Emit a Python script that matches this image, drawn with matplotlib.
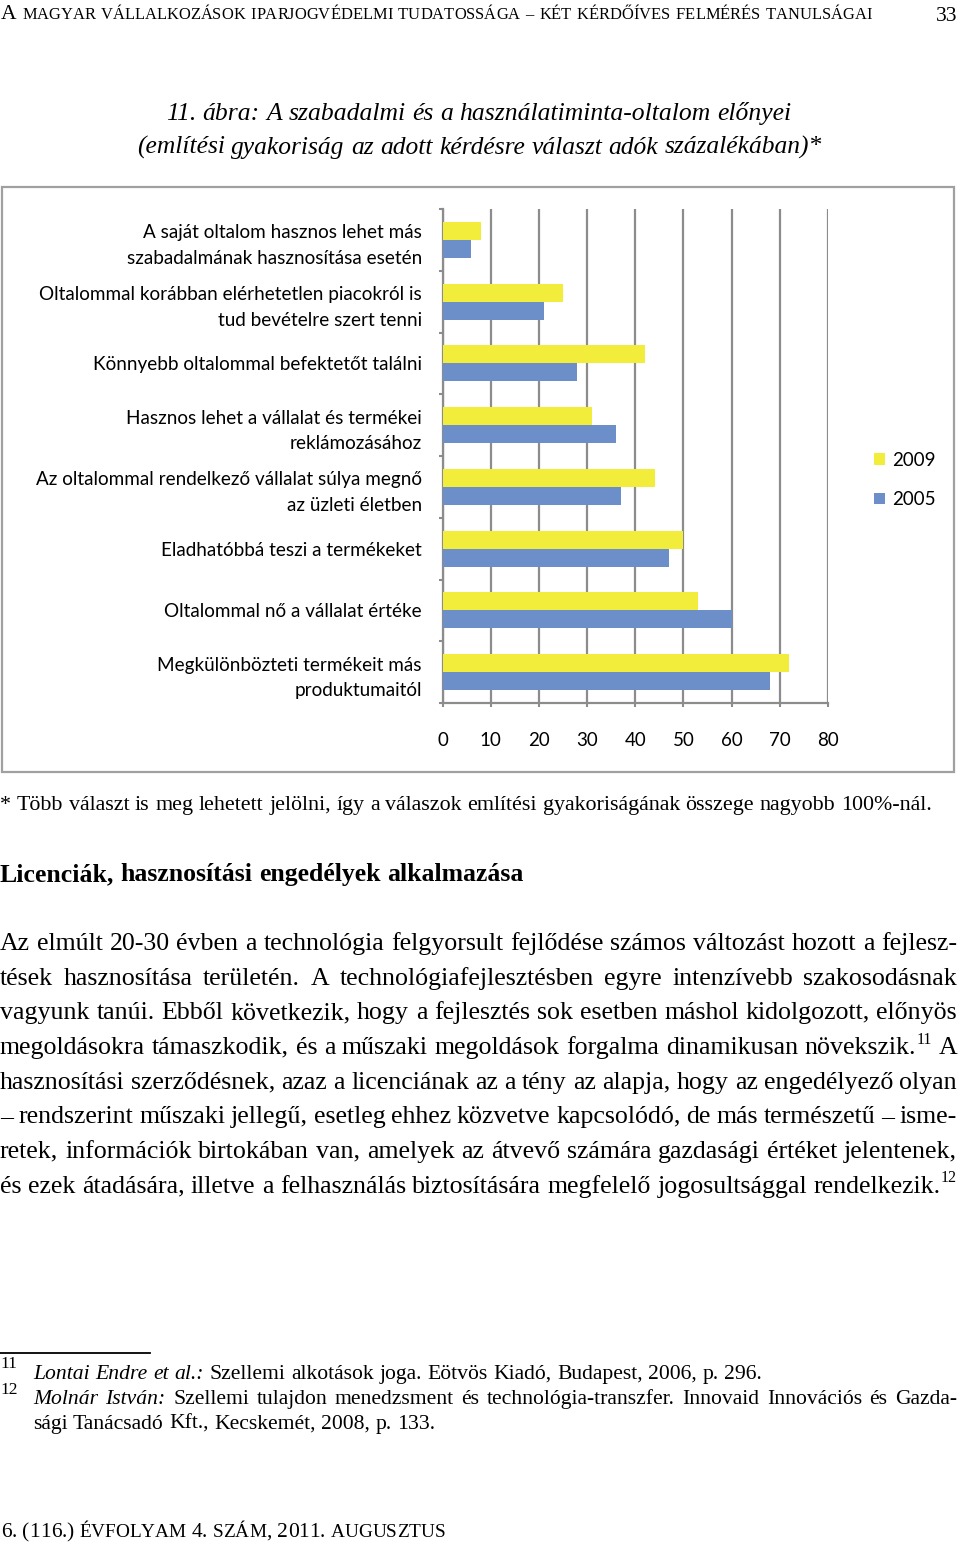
import numpy as np
import matplotlib
matplotlib.use("Agg")
import matplotlib.pyplot as plt
from matplotlib.patches import Rectangle

# ---------------- data ----------------
categories = [
    "A saját oltalom hasznos lehet más\nszabadalmának hasznosítása esetén",
    "Oltalommal korábban elérhetetlen piacokról is\ntud bevételre szert tenni",
    "Könnyebb oltalommal befektetőt találni",
    "Hasznos lehet a vállalat és termékei\nreklámozásához",
    "Az oltalommal rendelkező vállalat súlya megnő\naz üzleti életben",
    "Eladhatóbbá teszi a termékeket",
    "Oltalommal nő a vállalat értéke",
    "Megkülönbözteti termékeit más\nproduktumaitól",
]
values_2009 = [8, 25, 42, 31, 44, 50, 53, 72]
values_2005 = [6, 21, 28, 36, 37, 47, 60, 68]
series_labels = ["2009", "2005"]
x_ticks = [0, 10, 20, 30, 40, 50, 60, 70, 80]

header_text = "A magyar vállalkozások iparjogvédelmi tudatossága – két kérdőíves felmérés tanulságai"
page_number = "33"
title_lines = [
    "11. ábra: A szabadalmi és a használatiminta-oltalom előnyei",
    "(említési gyakoriság az adott kérdésre választ adók százalékában)*",
]
note_text = "* Több választ is meg lehetett jelölni, így a válaszok említési gyakoriságának összege nagyobb 100%-nál."
heading_text = "Licenciák, hasznosítási engedélyek alkalmazása"
body_lines = [
    "Az elmúlt 20-30 évben a technológia felgyorsult fejlődése számos változást hozott a fejlesz-",
    "tések hasznosítása területén. A technológiafejlesztésben egyre intenzívebb szakosodásnak",
    "vagyunk tanúi. Ebből következik, hogy a fejlesztés sok esetben máshol kidolgozott, előnyös",
    "megoldásokra támaszkodik, és a műszaki megoldások forgalma dinamikusan növekszik.^11 A",
    "hasznosítási szerződésnek, azaz a licenciának az a tény az alapja, hogy az engedélyező olyan",
    "– rendszerint műszaki jellegű, esetleg ehhez közvetve kapcsolódó, de más természetű – isme-",
    "retek, információk birtokában van, amelyek az átvevő számára gazdasági értéket jelentenek,",
    "és ezek átadására, illetve a felhasználás biztosítására megfelelő jogosultsággal rendelkezik.^12",
]
footnote_lines = [
    "_Lontai _Endre _et _al.: Szellemi alkotások joga. Eötvös Kiadó, Budapest, 2006, p. 296.",
    "_Molnár _István: Szellemi tulajdon menedzsment és technológia-transzfer. Innovaid Innovációs és Gazda-",
    "sági Tanácsadó Kft., Kecskemét, 2008, p. 133.",
]
footnote_numbers = ["11", "12"]
footer_text = "6. (116.) évfolyam 4. szám, 2011. augusztus"

# ---------------- style ----------------
SERIF = "Liberation Serif"
SANS = "Lato"
YELLOW = "#F2EC3A"
BLUE = "#6C8EC9"
GRID = "#8C8C8C"

W, H = 960, 1547
fig = plt.figure(figsize=(W / 100, H / 100), dpi=100)
fig.patch.set_facecolor("white")
ov = fig.add_axes([0, 0, 1, 1], zorder=0)
ov.set_xlim(0, W)
ov.set_ylim(H, 0)
ov.axis("off")
R = fig.canvas.get_renderer()


def wid(t):
    return t.get_window_extent(renderer=R).width


def space_w(props, family):
    p = {k: v for k, v in props.items() if k != "dy"}
    a = ov.text(0, 0, "n n", family=family, **p)
    b = ov.text(0, 0, "nn", family=family, **p)
    s = wid(a) - wid(b)
    a.remove(); b.remove()
    return s


def draw_line(words, x0, x1, base, mode="left", family=SERIF):
    """words: list of list of (text, props). mode: left, justify, fit"""
    objs = []
    for w in words:
        row = []
        for s, p in w:
            p = dict(p)
            dy = p.pop("dy", 0)
            t = ov.text(0, base + dy, s, family=family, va="baseline", ha="left", **p)
            row.append([t, wid(t), p.get("size", 12)])
        objs.append(row)
    sp = space_w(words[0][0][1], family)
    tot = sum(r[1] for row in objs for r in row)
    n = len(objs)
    scale = 1.0
    if mode == "fit":
        natural = tot + sp * (n - 1)
        scale = (x1 - x0) / natural
        for row in objs:
            for r in row:
                r[0].set_fontsize(r[2] * scale)
                r[1] = wid(r[0])
        tot = sum(r[1] for row in objs for r in row)
        gap = (x1 - x0 - tot) / (n - 1) if n > 1 else 0
    elif mode == "justify":
        gap = (x1 - x0 - tot) / (n - 1) if n > 1 else 0
    else:
        gap = sp
    x = x0
    for row in objs:
        for r in row:
            r[0].set_x(x)
            x += r[1]
        x += gap
    return scale


def plain_words(text, size, **kw):
    out = []
    for w in text.split(" "):
        style = dict(size=size, **kw)
        if w.startswith("_"):
            w = w[1:]
            style["style"] = "italic"
        parts = w.split("^")
        pieces = [(parts[0], style)]
        if len(parts) > 1:
            sup = dict(style)
            sup["size"] = size * 0.62
            sup["dy"] = -size * 0.55
            pieces.append((parts[1], sup))
        out.append(pieces)
    return out


def smallcap_words(text, big, small):
    out = []
    for w in text.split(" "):
        pieces = []
        for ch in w:
            if ch.isupper():
                pieces.append((ch, dict(size=big)))
            elif ch.isdigit() or ch in "().,":
                pieces.append((ch, dict(size=small * 1.12)))
            else:
                pieces.append((ch.upper(), dict(size=small)))
        out.append(pieces)
    return out


# ---------------- header ----------------
draw_line(smallcap_words(header_text, 15, 11.5), 1, 872, 19, mode="fit")
ov.text(957, 21, page_number, family=SERIF, size=15.5, ha="right", va="baseline")

# ---------------- title ----------------
draw_line(plain_words(title_lines[0], 18, style="italic"), 166, 791, 120, mode="fit")
draw_line(plain_words(title_lines[1], 18, style="italic"), 137, 822, 154, mode="fit")

# ---------------- chart frame ----------------
ov.add_patch(Rectangle((2, 187), 952, 584.5, fill=False, edgecolor="#A0A0A0", lw=1.6))

# ---------------- chart ----------------
L, Rt, T, B = 442.5, 828, 209, 703
ax = fig.add_axes([L / W, 1 - B / H, (Rt - L) / W, (B - T) / H], zorder=2)
ax.set_facecolor("none")
y = np.arange(len(categories))
bh = 0.29
b1 = ax.barh(y - bh / 2, values_2009, height=bh, color=YELLOW, label=series_labels[0], zorder=3)
b2 = ax.barh(y + bh / 2, values_2005, height=bh, color=BLUE, label=series_labels[1], zorder=3)
ax.set_xlim(0, 80)
ax.set_ylim(len(categories) - 0.5, -0.5)
ax.set_xticks(x_ticks)
ax.set_xticklabels([str(v) for v in x_ticks], family=SANS, fontsize=13.5)
ax.set_yticks(y)
ax.set_yticklabels(categories, family=SANS, fontsize=13.6, linespacing=1.6)
ax.set_yticks(np.arange(-0.5, len(categories)), minor=True)
ax.tick_params(axis="y", which="major", length=0, pad=14.8)
ax.tick_params(axis="y", which="minor", length=3, width=1.5, color=GRID, direction="out")
ax.tick_params(axis="x", which="major", length=3, width=1.5, color=GRID, direction="out", pad=18)
ax.grid(axis="x", color=GRID, lw=1.6)
ax.set_axisbelow(True)
for s in ["top", "right"]:
    ax.spines[s].set_visible(False)
for s in ["left", "bottom"]:
    ax.spines[s].set_color(GRID)
    ax.spines[s].set_linewidth(1.6)
leg = ax.legend(handles=[b1, b2], labels=series_labels, loc="center left",
                bbox_to_anchor=(865 / W, 1 - 480 / H), bbox_transform=fig.transFigure,
                frameon=False, borderpad=0, handlelength=0.55, handleheight=0.55,
                handletextpad=0.4, labelspacing=1.2, prop=dict(family=SANS, size=13.5))

# ---------------- note & heading ----------------
draw_line(plain_words(note_text, 15.5), 0, 932, 810, mode="fit")
draw_line(plain_words(heading_text, 17, weight="bold"), 0, 523, 881, mode="fit")

# ---------------- body ----------------
base0, lh = 950, 34.65
for i, line in enumerate(body_lines):
    draw_line(plain_words(line, 18.6), 0, 957, base0 + i * lh, mode="justify")

# ---------------- footnotes ----------------
ov.plot([0, 150], [1352.5, 1352.5], color="black", lw=1.3)
ov.text(0, 1368, footnote_numbers[0], family=SERIF, size=12.5, va="baseline")
ov.text(0, 1394, footnote_numbers[1], family=SERIF, size=12.5, va="baseline")
sc = draw_line(plain_words(footnote_lines[0], 15), 33, 762, 1379, mode="fit")
draw_line(plain_words(footnote_lines[1], 15 * sc), 33, 957, 1404, mode="justify")
draw_line(plain_words(footnote_lines[2], 15 * sc), 33, 957, 1429, mode="left")

# ---------------- footer ----------------
draw_line(smallcap_words(footer_text, 15, 11.5), 1, 445, 1537, mode="fit")

fig.savefig("out.png", dpi=100, facecolor="white")
